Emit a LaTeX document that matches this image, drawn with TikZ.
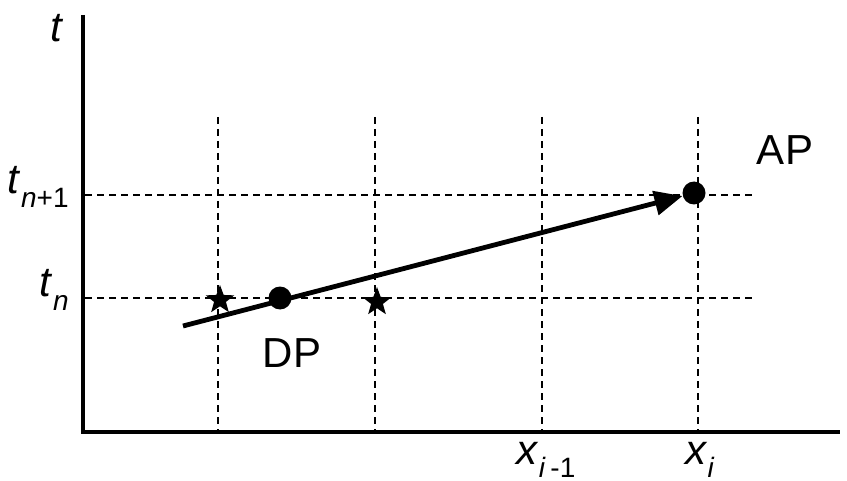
\documentclass[tikz,border=0pt]{standalone}
\usepackage{fontspec}
\setmainfont{Liberation Sans}
\usepackage{tikz}
\usetikzlibrary{shapes.geometric, arrows.meta, positioning}
\newcommand{\sub}[1]{\raisebox{-0.32em}{\fontsize{14}{16}\selectfont #1}}
\tikzset{
  axis/.style={draw=black, line width=1.7pt},
  gridL/.style={draw=black, line width=1.1pt, dash pattern=on 3.5pt off 2.5pt},
  dot/.style={circle, fill=black, inner sep=0pt, minimum size=11.5pt},
  starV/.style={star, star points=5, star point ratio=2.4, fill=black,
                inner sep=0pt, minimum size=15pt},
  traj/.style={draw=black, line width=2.4pt, -{Triangle[length=14pt, width=12pt]}},
  varL/.style={font=\fontsize{21}{24}\selectfont, inner sep=0pt},
  ptL/.style={font=\fontsize{21}{24}\selectfont, inner sep=0pt},
}

\begin{document}
\begin{tikzpicture}[x=0.5pt, y=-0.5pt]
    \useasboundingbox (0,0) rectangle (847,481);
    %% axes
    \coordinate (o) at (83,432);
    \coordinate (ttop) at (83,15);
    \coordinate (xend) at (840,432);
    \draw[axis] (ttop) -- (o) -- (xend);
    %% grid: vertical lines
    \foreach \x/\n in {218/g1,375/g2,542/g3,698/g4}{
      \coordinate (\n top) at (\x,117);
      \coordinate (\n bot) at (\x,432);
      \draw[gridL] (\n top) -- (\n bot);
    }
    %% grid: horizontal lines
    \foreach \y/\n in {195/h1,298/h2}{
      \coordinate (\n l) at (85,\y);
      \coordinate (\n r) at (752,\y);
      \draw[gridL] (\n l) -- (\n r);
    }
    %% points
    \node[dot] (dp) at (280,298) {};
    \node[dot] (ap) at (694,193) {};
    \node[starV] (s1) at (220,300) {};
    \node[starV] (s2) at (377,302) {};
    %% trajectory
    \coordinate (start) at (183,326);
    \draw[traj] (start) -- (ap);
    %% labels
    \node[varL] (tlab) at (57,28) {\textit{t}};
    \node[varL, anchor=east] (tn1) at (69,187) {\textit{t}\sub{\textit{n}+1}};
    \node[varL, anchor=east] (tn) at (69,290) {\textit{t}\sub{\textit{n}}};
    \node[varL] (xim1) at (546,460) {\textit{x}\sub{\textit{i}\,-1}};
    \node[varL] (xi) at (700,460) {\textit{x}\sub{\textit{i}}};
    \node[ptL] (aplab) at (785,150) {AP};
    \node[ptL] (dplab) at (292,353) {DP};
  \end{tikzpicture}
\end{document}
